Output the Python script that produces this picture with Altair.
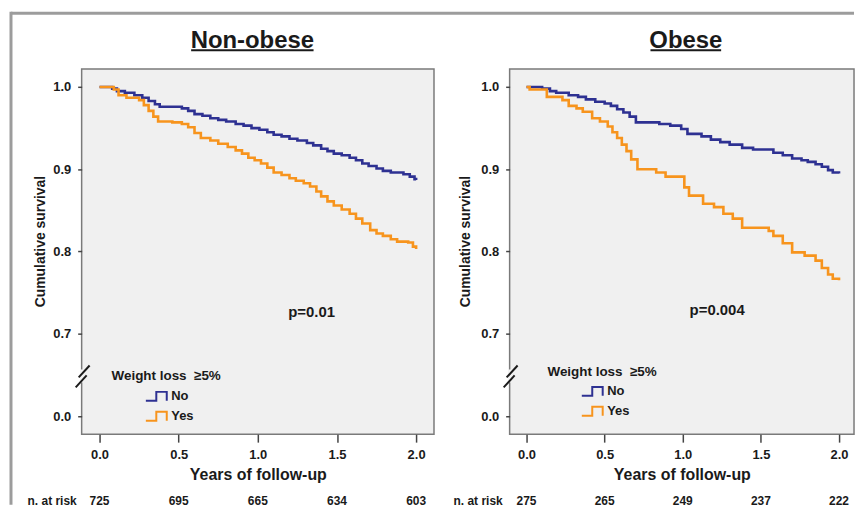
import altair as alt
import pandas as pd

# ---------------- data ----------------
groups = ["No", "Yes"]
panel_titles = ["Non-obese", "Obese"]
x_ticks = [0.0, 0.5, 1.0, 1.5, 2.0]
y_ticks = [0.6, 0.7, 0.8, 0.9, 1.0]   # 0.6 is shown as "0.0" (broken axis)

nonobese_no_t = [0, 0.08, 0.11, 0.16, 0.22, 0.27, 0.31, 0.35, 0.38, 0.46, 0.52, 0.56, 0.60, 0.65, 0.70,
                 0.75, 0.80, 0.86, 0.91, 0.96, 1.01, 1.06, 1.10, 1.15, 1.20, 1.25, 1.31, 1.35, 1.40,
                 1.44, 1.48, 1.53, 1.58, 1.62, 1.66, 1.70, 1.75, 1.79, 1.84, 1.92, 1.96, 1.99, 2.0]
nonobese_no_s = [1.0, 0.998, 0.995, 0.993, 0.990, 0.987, 0.983, 0.979, 0.976, 0.976, 0.974, 0.971, 0.967,
                 0.965, 0.962, 0.960, 0.958, 0.955, 0.953, 0.950, 0.948, 0.945, 0.942, 0.940, 0.937,
                 0.935, 0.932, 0.929, 0.925, 0.922, 0.919, 0.917, 0.914, 0.911, 0.907, 0.904, 0.901,
                 0.898, 0.896, 0.894, 0.891, 0.888, 0.887]

nonobese_yes_t = [0, 0.09, 0.12, 0.17, 0.25, 0.28, 0.31, 0.34, 0.37, 0.46, 0.52, 0.56, 0.60, 0.64, 0.70,
                  0.75, 0.81, 0.86, 0.90, 0.94, 0.98, 1.02, 1.06, 1.10, 1.15, 1.20, 1.24, 1.29, 1.33,
                  1.37, 1.40, 1.44, 1.48, 1.53, 1.58, 1.62, 1.66, 1.71, 1.75, 1.79, 1.84, 1.88, 1.95,
                  1.98, 2.0]
nonobese_yes_s = [1.0, 0.997, 0.990, 0.987, 0.984, 0.978, 0.971, 0.964, 0.958, 0.957, 0.955, 0.951, 0.944,
                  0.938, 0.935, 0.931, 0.927, 0.923, 0.919, 0.914, 0.911, 0.907, 0.902, 0.896, 0.893,
                  0.889, 0.886, 0.883, 0.879, 0.873, 0.867, 0.861, 0.856, 0.851, 0.846, 0.840, 0.834,
                  0.826, 0.822, 0.819, 0.815, 0.812, 0.811, 0.806, 0.803]

obese_no_t = [0, 0.10, 0.15, 0.19, 0.27, 0.33, 0.38, 0.44, 0.50, 0.54, 0.58, 0.62, 0.66, 0.70, 0.85,
              0.92, 0.99, 1.03, 1.12, 1.18, 1.24, 1.30, 1.38, 1.45, 1.58, 1.64, 1.70, 1.76, 1.80,
              1.85, 1.89, 1.93, 1.96, 2.0]
obese_no_s = [1.0, 0.998, 0.995, 0.993, 0.990, 0.988, 0.985, 0.982, 0.980, 0.977, 0.973, 0.969, 0.964,
              0.957, 0.955, 0.953, 0.949, 0.943, 0.940, 0.936, 0.933, 0.930, 0.926, 0.924, 0.920,
              0.917, 0.913, 0.911, 0.909, 0.906, 0.903, 0.899, 0.896, 0.895]

obese_yes_t = [0, 0.02, 0.13, 0.23, 0.27, 0.32, 0.36, 0.42, 0.47, 0.52, 0.55, 0.58, 0.61, 0.64, 0.67,
               0.71, 0.83, 0.89, 1.01, 1.04, 1.13, 1.20, 1.26, 1.32, 1.38, 1.55, 1.58, 1.64, 1.70,
               1.78, 1.85, 1.89, 1.93, 1.96, 2.0]
obese_yes_s = [1.0, 0.997, 0.988, 0.984, 0.977, 0.974, 0.970, 0.962, 0.958, 0.952, 0.945, 0.938, 0.930,
               0.922, 0.912, 0.900, 0.896, 0.891, 0.878, 0.868, 0.858, 0.854, 0.846, 0.840, 0.829,
               0.825, 0.819, 0.810, 0.799, 0.795, 0.789, 0.780, 0.772, 0.767, 0.765]

risk_nonobese = [725, 695, 665, 634, 603]
risk_obese = [275, 265, 249, 237, 222]

p_labels = ["p=0.01", "p=0.004"]
p_x = [1.34, 1.22]
p_y = [0.7205, 0.723]

legend_title = "Weight loss\u00a0\u00a0\u22655%"

# ---------------- style ----------------
FONT = "Liberation Sans"
NAVY = "#2e3192"
ORANGE = "#f7941d"
TXT = "#1a1a1a"
H = 367
W1, W2 = 354, 346
GAP = 76
STEP_PATH = "M-2.1,0.9H0V-0.9H2.1V0.9"
one = pd.DataFrame({"k": [0]})


def panel(title, no_t, no_s, yes_t, yes_s, risk, p_lab, px, py, width, xdom,
          title_cx, ul_w, ytitle_x, leg_x, leg_y, legt_x, legt_y, risk_lab_x, border=False):
    curves = pd.DataFrame({
        "t": list(no_t) + list(yes_t),
        "s": list(no_s) + list(yes_s),
        "group": [groups[0]] * len(no_t) + [groups[1]] * len(yes_t),
    })
    xs = alt.Scale(domain=xdom, nice=False, zero=False)
    ys = alt.Scale(domain=[0.578, 1.022], nice=False, zero=False)

    lines = alt.Chart(curves).mark_line(interpolate="step-after", strokeWidth=2.6).encode(
        x=alt.X("t:Q", scale=xs, title="Years of follow-up",
                axis=alt.Axis(values=x_ticks, format=".1f", tickSize=8, labelPadding=6,
                              titleFontSize=16, titleY=46, titleBaseline="alphabetic")),
        y=alt.Y("s:Q", scale=ys, title="Cumulative survival",
                axis=alt.Axis(values=y_ticks, tickSize=4, labelPadding=7,
                              labelExpr="datum.value < 0.65 ? '0.0' : format(datum.value, '.1f')",
                              titleFontSize=14, titleX=ytitle_x, titleY=173,
                              titleBaseline="alphabetic")),
        color=alt.Color("group:N", scale=alt.Scale(domain=groups, range=[NAVY, ORANGE]),
                        legend=alt.Legend(orient="none", legendX=leg_x, legendY=leg_y, title=None,
                                          symbolType=STEP_PATH, symbolSize=100,
                                          symbolStrokeWidth=2, labelFont=FONT,
                                          labelFontSize=13, labelFontWeight="bold",
                                          labelColor=TXT, labelOffset=8.5, rowPadding=3,
                                          padding=0)),
    )

    pdf = pd.DataFrame({"t": [px], "s": [py], "lab": [p_lab]})
    ptext = alt.Chart(pdf).mark_text(font=FONT, fontSize=15, fontWeight="bold", color=TXT,
                                     baseline="alphabetic").encode(
        x="t:Q", y="s:Q", text="lab:N")

    rdf = pd.DataFrame({"t": x_ticks, "n": risk})
    rtext = alt.Chart(rdf).mark_text(font=FONT, fontSize=12, fontWeight="bold", color=TXT,
                                     baseline="alphabetic").encode(
        x="t:Q", y=alt.value(H + 71), text="n:Q")
    rlab = alt.Chart(one).mark_text(font=FONT, fontSize=12, fontWeight="bold", color=TXT,
                                    align="right", baseline="alphabetic", text="n. at risk").encode(
        x=alt.value(risk_lab_x), y=alt.value(H + 71))

    ttl = alt.Chart(one).mark_text(font=FONT, fontSize=24, fontWeight="bold", color=TXT,
                                   baseline="alphabetic", text=title).encode(
        x=alt.value(title_cx), y=alt.value(-21))
    uline = alt.Chart(one).mark_rule(color=TXT, strokeWidth=2).encode(
        x=alt.value(title_cx - ul_w / 2), x2=alt.value(title_cx + ul_w / 2),
        y=alt.value(-18.8))

    legt = alt.Chart(one).mark_text(font=FONT, fontSize=13.5, fontWeight="bold", color=TXT,
                                    align="left", baseline="alphabetic", text=legend_title).encode(
        x=alt.value(legt_x), y=alt.value(legt_y))

    gap = alt.Chart(one).mark_rule(color="#f4f4f4", strokeWidth=3).encode(
        x=alt.value(0), y=alt.value(302), y2=alt.value(315))
    slash1 = alt.Chart(one).mark_rule(color=TXT, strokeWidth=2).encode(
        x=alt.value(-3), y=alt.value(310), x2=alt.value(8), y2=alt.value(298))
    slash2 = alt.Chart(one).mark_rule(color=TXT, strokeWidth=2).encode(
        x=alt.value(-6), y=alt.value(320), x2=alt.value(5), y2=alt.value(308))

    layers = [lines, ptext, rtext, rlab, ttl, uline, legt, gap, slash1, slash2]
    if border:
        btop = alt.Chart(one).mark_rule(color="#9c9c9c", strokeWidth=3).encode(
            x=alt.value(-71), x2=alt.value(W1 + GAP + W2), y=alt.value(-56))
        bleft = alt.Chart(one).mark_rule(color="#9c9c9c", strokeWidth=3).encode(
            x=alt.value(-71), y=alt.value(-57.5), y2=alt.value(438))
        layers += [btop, bleft]
    return alt.layer(*layers).properties(width=width, height=H)


left = panel(panel_titles[0], nonobese_no_t, nonobese_no_s, nonobese_yes_t, nonobese_yes_s,
             risk_nonobese, p_labels[0], p_x[0], p_y[0], W1, [-0.113, 2.113],
             171.5, 123, -37, 68.5, 322.5, 30, 313, -5, border=True)
right = panel(panel_titles[1], obese_no_t, obese_no_s, obese_yes_t, obese_yes_s,
              risk_obese, p_labels[1], p_x[1], p_y[1], W2, [-0.108, 2.096],
              177, 71, -40, 76.5, 317.5, 38, 309, -7)

chart = alt.hconcat(left, right, spacing=GAP, bounds="flush").resolve_scale(
    color="independent").resolve_legend(color="independent").properties(
    padding={"left": 0, "top": 0, "right": 0, "bottom": 0},
    background="white",
).configure_view(
    stroke="#7a7a7a", strokeWidth=1.5, fill="#f0f0f0"
).configure_axis(
    grid=False, domain=False, labelFont=FONT, labelFontSize=13, labelFontWeight="bold",
    labelColor=TXT, tickColor="#444444", tickWidth=1.5, titleFont=FONT,
    titleFontWeight="bold", titleColor=TXT,
)

chart.save("out.html", embed_options={"renderer": "svg", "actions": False})
